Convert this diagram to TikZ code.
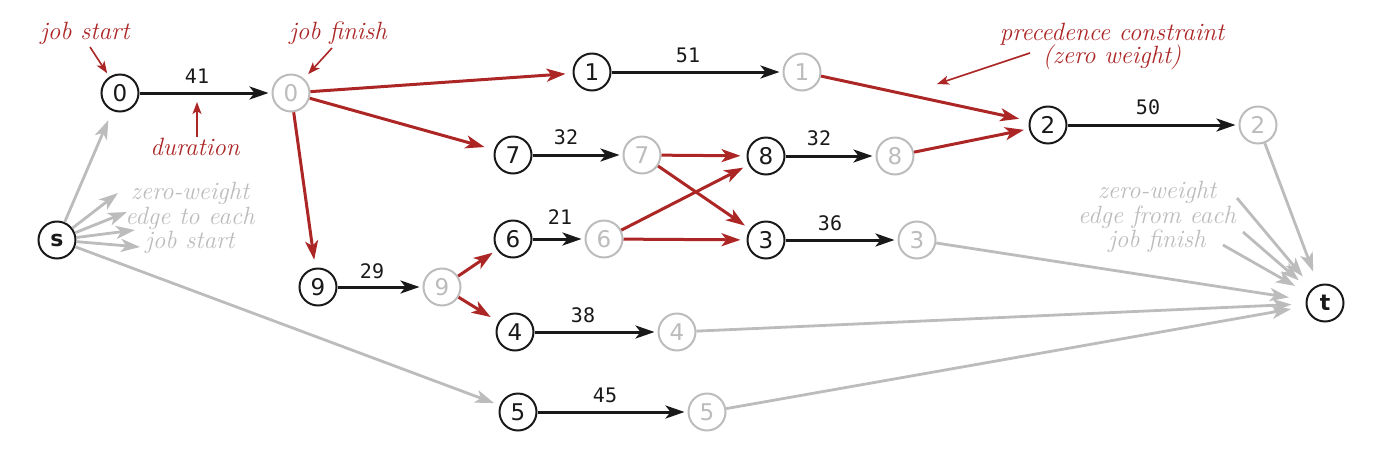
\documentclass[tikz,border=0pt]{standalone}
\usepackage{fontspec}
\usetikzlibrary{arrows.meta}
\newfontfamily\nodefont{DejaVu Sans}
\newfontfamily\wfont{DejaVu Sans Mono}
\definecolor{cred}{RGB}{172,38,38}
\definecolor{cgray}{RGB}{188,188,188}
\definecolor{cblack}{RGB}{25,25,25}
\begin{document}
\begin{tikzpicture}[x=1pt,y=-1pt,
 js/.style={circle,draw=cblack,line width=2pt,minimum size=37pt,inner sep=0pt,font=\nodefont\fontsize{23}{23}\selectfont,text=cblack,fill=white},
 jf/.style={js,draw=cgray,text=cgray},
 term/.style={js,font=\nodefont\bfseries\fontsize{22}{22}\selectfont},
 tip/.style={-{Stealth[length=19pt,width=13pt,inset=5pt]}},
 dur/.style={tip,line width=3pt,draw=cblack,shorten >=3pt},
 prec/.style={tip,line width=3pt,draw=cred,shorten >=6pt},
 zero/.style={tip,line width=2.8pt,draw=cgray},
 wlab/.style={font=\wfont\fontsize{20}{20}\selectfont,text=cblack,anchor=base},
 note/.style={font=\itshape\fontsize{25}{24.5}\selectfont,text=cred,anchor=base},
 gnote/.style={font=\itshape\fontsize{25}{24.5}\selectfont,text=cgray,align=center},
 thin/.style={-{Stealth[length=12pt,width=9pt,inset=3pt]},line width=1.6pt,draw=cred},
]
\useasboundingbox (0,0) rectangle (1374,456);
% nodes
\node[term] (s) at (57,240) {s};
\node[term] (t) at (1325,303) {t};
\node[js] (s0) at (120,93) {0};  \node[jf] (f0) at (291,93) {0};
\node[js] (s1) at (592,72) {1};  \node[jf] (f1) at (802,72) {1};
\node[js] (s2) at (1048,125) {2}; \node[jf] (f2) at (1258,125) {2};
\node[js] (s7) at (513,155) {7}; \node[jf] (f7) at (642,155) {7};
\node[js] (s8) at (766,156) {8}; \node[jf] (f8) at (895,156) {8};
\node[js] (s6) at (513,239) {6}; \node[jf] (f6) at (604,239) {6};
\node[js] (s3) at (766,240) {3}; \node[jf] (f3) at (917,240) {3};
\node[js] (s9) at (318,287) {9}; \node[jf] (f9) at (442,287) {9};
\node[js] (s4) at (515,332) {4}; \node[jf] (f4) at (677,332) {4};
\node[js] (s5) at (518,412) {5}; \node[jf] (f5) at (707,412) {5};
% durations
\draw[dur] (s0) -- (f0);
\draw[dur] (s1) -- (f1);
\draw[dur] (s2) -- (f2);
\draw[dur] (s7) -- (f7);
\draw[dur] (s8) -- (f8);
\draw[dur] (s6) -- (f6);
\draw[dur] (s3) -- (f3);
\draw[dur] (s9) -- (f9);
\draw[dur] (s4) -- (f4);
\draw[dur] (s5) -- (f5);
\node[wlab] (w0) at (197,83) {41};
\node[wlab] (w1) at (688,62) {51};
\node[wlab] (w2) at (1148,114) {50};
\node[wlab] (w7) at (566,144) {32};
\node[wlab] (w8) at (819,145) {32};
\node[wlab] (w6) at (560,224) {21};
\node[wlab] (w3) at (830,230) {36};
\node[wlab] (w9) at (372,278) {29};
\node[wlab] (w4) at (583,322) {38};
\node[wlab] (w5) at (605,402) {45};
% precedence constraints
\draw[prec,shorten >=7pt] (f0) -- (s1);
\draw[prec,shorten >=10pt] (f0) -- (s7);
\draw[prec,shorten >=8pt] (f0) -- (s9);
\draw[prec,shorten >=10pt] (f1) -- (s2);
\draw[prec,shorten >=5pt] (f8) -- (s2);
\draw[prec] (f7) -- (s8);
\draw[prec] (f7) -- (s3);
\draw[prec] (f6) -- (s8);
\draw[prec] (f6) -- (s3);
\draw[prec,shorten >=5pt] (f9) -- (s6);
\draw[prec,shorten >=9pt] (f9) -- (s4);
% zero-weight edges from s
\draw[zero,shorten >=10pt] (s) -- (s0);
\draw[zero,shorten >=6pt] (s) -- (s5);
\coordinate (sa1) at (118,193);
\coordinate (sa2) at (127,212);
\coordinate (sa3) at (135,230);
\coordinate (sa4) at (140,247);
\draw[zero] (s) -- (sa1);
\draw[zero] (s) -- (sa2);
\draw[zero] (s) -- (sa3);
\draw[zero] (s) -- (sa4);
% zero-weight edges to t
\draw[zero,shorten >=14pt] (f2) -- (t);
\draw[zero,shorten >=17pt] (f3) -- (t);
\draw[zero,shorten >=14pt] (f4) -- (t);
\draw[zero,shorten >=15pt] (f5) -- (t);
\coordinate (ta1) at (1237,198);
\coordinate (ta2) at (1243,232);
\coordinate (ta3) at (1223,245);
\draw[zero,shorten >=15pt] (ta1) -- (t);
\draw[zero,shorten >=15pt] (ta2) -- (t);
\draw[zero,shorten >=15pt] (ta3) -- (t);
% annotations
\node[note] (njs) at (85,39) {job start};
\node[note] (njf) at (338,39) {job finish};
\node[note] (ndur) at (195,155) {duration};
\node[note] (npc1) at (1112,40) {precedence constraint};
\node[note] (npc2) at (1112,63) {(zero weight)};
\coordinate (ajs) at (90,47);
\coordinate (ajf) at (332,48);
\coordinate (adur) at (197,137);
\coordinate (adurt) at (197,102);
\coordinate (apc) at (1030,53);
\coordinate (apct) at (937,84);
\draw[thin,shorten >=4pt] (ajs) -- (s0);
\draw[thin,shorten >=6pt] (ajf) -- (f0);
\draw[thin] (adur) -- (adurt);
\draw[thin] (apc) -- (apct);
\node[gnote] (gl) at (190,218) {zero-weight\\edge to each\\job start};
\node[gnote] (gr) at (1157,217) {zero-weight\\edge from each\\job finish};
\end{tikzpicture}
\end{document}
